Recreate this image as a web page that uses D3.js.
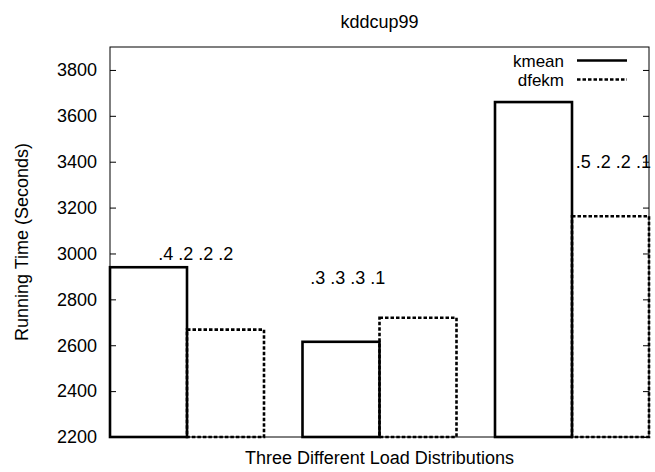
<!DOCTYPE html>
<html>
<head>
<meta charset="utf-8">
<script src="https://cdn.jsdelivr.net/npm/d3@7"></script>
<style>
  html, body { margin: 0; padding: 0; background: #fff; }
  svg { display: block; }
  text { font-family: "Liberation Sans", Arial, Helvetica, sans-serif; fill: #000; }
</style>
</head>
<body>
<svg id="chart" width="655" height="472"></svg>
<script>
// ---- data ----
const title = "kddcup99";
const xLabel = "Three Different Load Distributions";
const yLabel = "Running Time (Seconds)";
const categories = [".4 .2 .2 .2", ".3 .3 .3 .1", ".5 .2 .2 .1"];
const seriesNames = ["kmean", "dfekm"];
const kmean = [2940, 2615, 3660];
const dfekm = [2668, 2720, 3162];
const yTicks = [2200, 2400, 2600, 2800, 3000, 3200, 3400, 3600, 3800];

// ---- layout ----
const W = 655, H = 472;
const plot = { left: 110, right: 649, top: 47, bottom: 437 };
const fontSize = 18;
const svg = d3.select("#chart");

const y = d3.scaleLinear().domain([2200, 3900]).range([plot.bottom, plot.top]);
// group index scale: each group spans two bars of width 0.4
const x = d3.scaleLinear().domain([-0.4, 2.4]).range([plot.left, plot.right]);
const barW = 0.4;

const series = [
  { name: seriesNames[0], values: kmean, offset: -barW, dash: null },
  { name: seriesNames[1], values: dfekm, offset: 0, dash: "3.5,2" }
];

// frame (axis line)
svg.append("rect")
  .attr("x", plot.left).attr("y", plot.top)
  .attr("width", plot.right - plot.left).attr("height", plot.bottom - plot.top)
  .attr("fill", "none").attr("stroke", "#000").attr("stroke-width", 1);

// y ticks left & right
const leftAxis = d3.axisLeft(y).tickValues(yTicks).tickSize(-6).tickPadding(13).tickFormat(d3.format("d"));
const gL = svg.append("g").attr("transform", `translate(${plot.left},0)`).call(leftAxis);
gL.select(".domain").remove();
gL.selectAll("text").style("font-size", fontSize + "px").attr("font-family", "Liberation Sans, Arial, sans-serif");
gL.selectAll("line").attr("stroke", "#000");

const rightAxis = d3.axisRight(y).tickValues(yTicks).tickSize(-6).tickFormat("");
const gR = svg.append("g").attr("transform", `translate(${plot.right},0)`).call(rightAxis);
gR.select(".domain").remove();
gR.selectAll("line").attr("stroke", "#000");

// bars
const barsG = svg.append("g");
series.forEach(s => {
  barsG.selectAll(null).data(s.values).enter().append("rect")
    .attr("x", (d, i) => x(i + s.offset))
    .attr("width", x(barW) - x(0))
    .attr("y", d => y(d))
    .attr("height", d => y(2200) - y(d))
    .attr("fill", "none")
    .attr("stroke", "#000")
    .attr("stroke-width", 2.6)
    .attr("stroke-dasharray", s.dash);
});

// distribution labels (annotation layout relative to each group)
const labelLayout = [
  { dx: 0.045, v: 3000, anchor: "middle" },
  { dx: -0.165, v: 2895, anchor: "middle" },
  { dx: 0.02, v: 3400, anchor: "start" }
];
svg.selectAll(".dist").data(categories).enter().append("text")
  .attr("class", "dist")
  .attr("x", (d, i) => x(i + labelLayout[i].dx))
  .attr("y", (d, i) => y(labelLayout[i].v))
  .attr("dy", "0.36em")
  .attr("text-anchor", (d, i) => labelLayout[i].anchor)
  .style("font-size", fontSize + "px")
  .text(d => d);

// legend
const legend = svg.append("g");
series.forEach((s, i) => {
  const ly = 60.5 + i * 19;
  legend.append("text")
    .attr("x", 564).attr("y", ly).attr("dy", "0.36em")
    .attr("text-anchor", "end").style("font-size", "17px")
    .text(s.name);
  legend.append("line")
    .attr("x1", 577).attr("x2", 627).attr("y1", ly).attr("y2", ly)
    .attr("stroke", "#000").attr("stroke-width", 2.6)
    .attr("stroke-dasharray", s.dash);
});

// title
svg.append("text").attr("x", (plot.left + plot.right) / 2).attr("y", 28)
  .attr("text-anchor", "middle").style("font-size", fontSize + "px").text(title);

// x label
svg.append("text").attr("x", (plot.left + plot.right) / 2).attr("y", 464)
  .attr("text-anchor", "middle").style("font-size", fontSize + "px").text(xLabel);

// y label
svg.append("text")
  .attr("transform", `translate(22,${(plot.top + plot.bottom) / 2}) rotate(-90)`)
  .attr("dy", "0.36em")
  .attr("text-anchor", "middle").style("font-size", fontSize + "px").text(yLabel);
</script>
</body>
</html>
